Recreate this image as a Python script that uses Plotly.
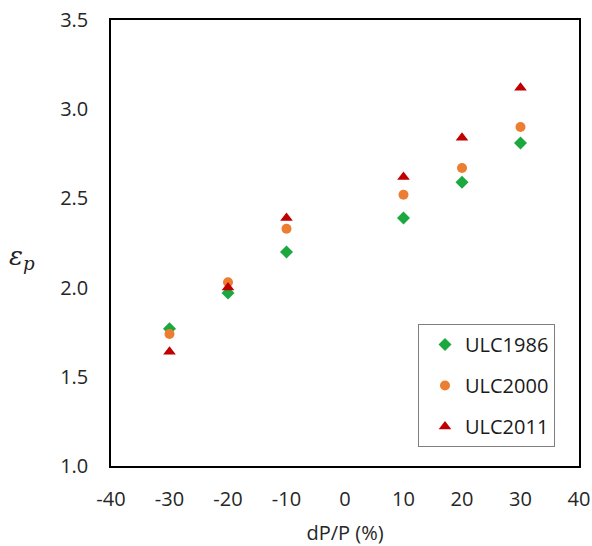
import plotly.graph_objects as go

dp = [-30, -20, -10, 10, 20, 30]
ulc1986 = [1.77, 1.97, 2.20, 2.39, 2.59, 2.81]
ulc2000 = [1.74, 2.03, 2.33, 2.52, 2.67, 2.90]
ulc2011 = [1.64, 2.00, 2.39, 2.62, 2.84, 3.12]

x_ticks = [-40, -30, -20, -10, 0, 10, 20, 30, 40]
x_ticklabels = ["-40", "-30", "-20", "-10", "0", "10", "20", "30", "40"]
y_ticks = [1.0, 1.5, 2.0, 2.5, 3.0, 3.5]
y_ticklabels = ["1.0", "1.5", "2.0", "2.5", "3.0", "3.5"]

series = [
    ("ULC1986", ulc1986, "diamond", "#1BA83F", 10),
    ("ULC2000", ulc2000, "circle", "#ED7D31", 10),
    ("ULC2011", ulc2011, "triangle-up", "#C00000", 11),
]

fig = go.Figure()
for name, vals, sym, col, sz in series:
    fig.add_trace(go.Scatter(
        x=dp, y=vals, mode="markers", name=name, legendgroup=name,
        marker=dict(symbol=sym, color=col, size=sz, line=dict(width=0)),
    ))

font_main = "Open Sans, Liberation Sans, sans-serif"
L, R, T, B = 111, 13, 20, 80
W, H = 592, 546
pw, ph = W - L - R, H - T - B

fig.update_layout(
    width=W, height=H,
    margin=dict(l=L, r=R, t=T, b=B, autoexpand=False),
    paper_bgcolor="white", plot_bgcolor="white",
    font=dict(family=font_main, size=20, color="#262626"),
    showlegend=True,
    legend=dict(
        x=(418 - L) / pw, y=(H - B - 324) / ph, xanchor="left", yanchor="top",
        bgcolor="white", bordercolor="#7F7F7F", borderwidth=1,
        font=dict(size=20, color="#1a1a1a"),
        tracegroupgap=12, indentation=6,
        entrywidth=96, entrywidthmode="pixels",
    ),
    xaxis=dict(
        range=[-40, 40], tickvals=x_ticks, ticktext=x_ticklabels,
        showgrid=False, zeroline=False, automargin=False,
        showline=True, linecolor="black", linewidth=1.5, mirror=True,
        ticks="", ticklabelstandoff=14,
        title=dict(text="dP/P (%)", font=dict(size=20, color="#262626"), standoff=16),
    ),
    yaxis=dict(
        range=[1.0, 3.5], tickvals=y_ticks, ticktext=y_ticklabels,
        showgrid=False, zeroline=False, automargin=False,
        showline=True, linecolor="black", linewidth=1.5, mirror=True,
        ticks="", ticklabelstandoff=17,
    ),
)

fig.add_annotation(
    x=(22 - L) / pw, y=(H - B - 257) / ph, xref="paper", yref="paper",
    xanchor="center", yanchor="middle",
    text="<i>ε<sub>p</sub></i>", showarrow=False,
    font=dict(family="DejaVu Serif, Liberation Serif, serif", size=26, color="#222222"),
)

fig.write_html(
    "out.html",
    config={"displayModeBar": False},
    post_script="document.body.style.margin='0px';document.body.style.overflow='hidden';",
)
